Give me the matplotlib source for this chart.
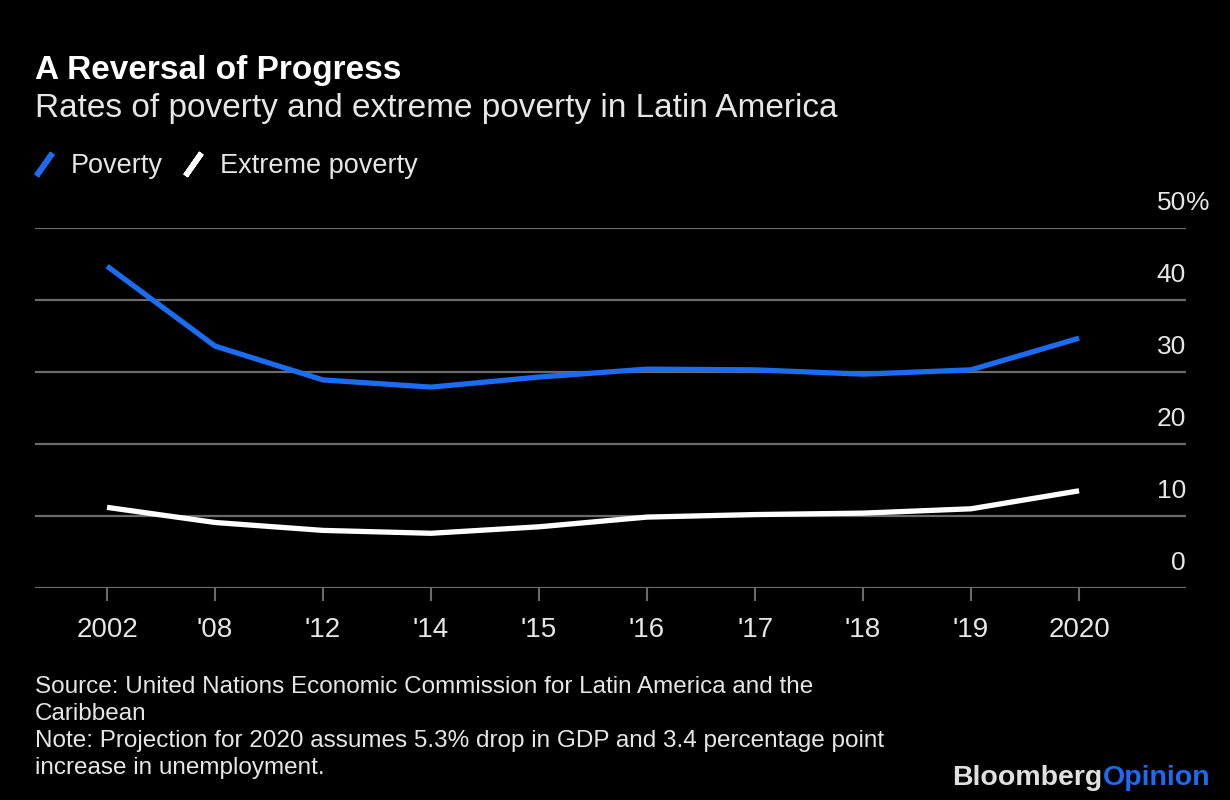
import matplotlib.pyplot as plt
from matplotlib.lines import Line2D

years = ["2002", "'08", "'12", "'14", "'15", "'16", "'17", "'18", "'19", "2020"]
poverty = [44.7, 33.6, 28.9, 27.9, 29.3, 30.4, 30.3, 29.7, 30.3, 34.7]
extreme_poverty = [11.2, 9.1, 8.0, 7.6, 8.5, 9.85, 10.2, 10.4, 11.0, 13.5]
y_ticks = [0, 10, 20, 30, 40, 50]

BG = "black"
BLUE = "#1b6cf0"
GRID = "#6a6a6a"
TXT = "#e6e6e6"

plt.rcParams['font.family'] = ['Liberation Sans', 'DejaVu Sans']

fig = plt.figure(figsize=(12.3, 8), dpi=100, facecolor=BG)
ax = fig.add_axes([35 / 1230, 1 - 588 / 800, (1186 - 35) / 1230, (588 - 228) / 800])
ax.set_facecolor(BG)

x = list(range(len(years)))
ax.plot(x, poverty, color=BLUE, lw=3.8, solid_capstyle='butt', zorder=3)
ax.plot(x, extreme_poverty, color="white", lw=3.8, solid_capstyle='butt', zorder=3)

ax.set_xlim(-0.667, 9.99)
ax.set_ylim(0, 50)
ax.set_yticks(y_ticks)
ax.yaxis.grid(True, color=GRID, lw=1.6)
ax.set_axisbelow(True)
ax.tick_params(axis='y', left=False, right=False, labelleft=False)
for s in ax.spines.values():
    s.set_visible(False)

ax.set_xticks(x)
ax.set_xticklabels(years, fontsize=20, color=TXT)
ax.tick_params(axis='x', length=9, width=1.5, color=GRID, pad=12)

# y labels sit above each gridline at the right
for v in y_ticks:
    ax.annotate(str(v), xy=(1, v), xycoords=('axes fraction', 'data'),
                xytext=(0, 9), textcoords='offset points',
                ha='right', va='bottom', fontsize=19, color=TXT)
ax.annotate('%', xy=(1, 50), xycoords=('axes fraction', 'data'),
            xytext=(0, 9), textcoords='offset points',
            ha='left', va='bottom', fontsize=19, color=TXT)

fig.text(35 / 1230, 1 - 70 / 800, "A Reversal of Progress", fontsize=24,
         fontweight='bold', color='white', va='center')
fig.text(35 / 1230, 1 - 109 / 800, "Rates of poverty and extreme poverty in Latin America",
         fontsize=24, color=TXT, va='center')

handles = [
    Line2D([], [], ls='none', marker=(2, 2, -35), ms=20, mew=4, color=BLUE),
    Line2D([], [], ls='none', marker=(2, 2, -35), ms=20, mew=4, color='white'),
]
fig.legend(handles, ["Poverty", "Extreme poverty"], loc='center left',
           bbox_to_anchor=(6 / 1230, 1 - 166 / 800), ncol=2, frameon=False,
           fontsize=19.5, labelcolor=TXT, handlelength=1.0, handletextpad=0.5,
           columnspacing=0.6)

footer = ("Source: United Nations Economic Commission for Latin America and the\n"
          "Caribbean\n"
          "Note: Projection for 2020 assumes 5.3% drop in GDP and 3.4 percentage point\n"
          "increase in unemployment.")
fig.text(35 / 1230, 1 - 676 / 800, footer, fontsize=17.5, color=TXT, va='top',
         linespacing=1.3)

t = fig.text(1210 / 1230, 1 - 778 / 800, "Opinion", fontsize=20.5, fontweight='bold',
             color=BLUE, ha='right', va='center')
fig.canvas.draw()
bb = t.get_window_extent()
fig.text(bb.x0 / 1230, 1 - 778 / 800, "Bloomberg", fontsize=20.5, fontweight='bold',
         color='#e0e0e0', ha='right', va='center')

fig.savefig("out.png", dpi=100, facecolor=BG)
